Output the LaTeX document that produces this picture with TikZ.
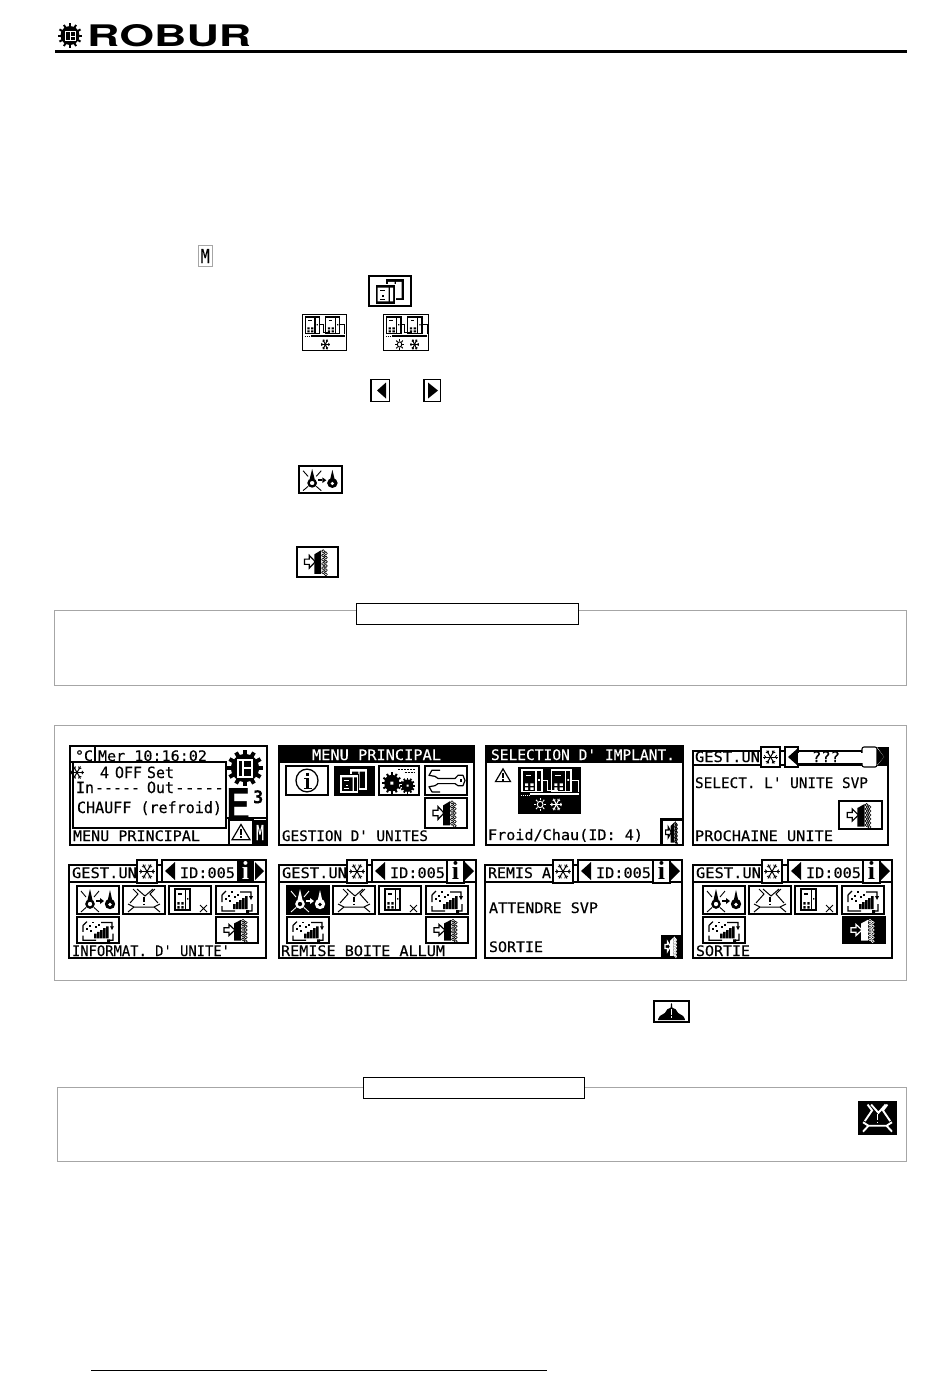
\documentclass[tikz,border=0pt]{standalone}
\usepackage{fontspec}
\usepackage{graphicx}
\usetikzlibrary{calc}
\newfontfamily\lcdfont{DejaVu Sans Mono}[FakeBold=0.35]
\newfontfamily\logofont{TeX Gyre Heros}[BoldFont={TeX Gyre Heros Bold}]
\newfontfamily\ifont{Liberation Serif}
\colorlet{icofg}{black}
\colorlet{icobg}{white}
\definecolor{framegray}{HTML}{A6A6A6}
\newbox\lcdbox
\def\lcdsz{14.5}
\newcommand\fitw[2]{\setbox\lcdbox\hbox{\lcdfont\fontsize{\lcdsz}{14}\selectfont #2}\pgfmathsetmacro\fitx{#1/\the\wd\lcdbox}\scalebox{\fitx}[1]{\box\lcdbox}}
\newcommand\lcd[6][black]{\node[lcdtext,text=#1] (#2) at (#3,#4) {\fitw{#5}{#6}};}
\def\bw{1.5}
\def\alw{1}
\tikzset{
  lcdtext/.style={anchor=base west,inner sep=0pt,outer sep=0pt},
  inv/.code={\colorlet{icofg}{white}\colorlet{icobg}{black}},
  bw/.store in=\bw,
  lcdline/.style={draw=black,line width=1.1pt,fill=white},
  pagebox/.style={draw=framegray,line width=1.1pt},
  titlebox/.style={draw=black,line width=1pt,fill=white},
}
\newcommand\ico[6][]{\begin{scope}[shift={(#2,#3)},xscale=#4/42,yscale=#5/28,#1]
  \draw[black,line width=\bw pt,fill=icobg] (0,0) rectangle (42,28); #6 \end{scope}}
\newcommand\gExit{%
  \fill[icofg] (18,7)--(25,3)--(25,25.5)--(18,25.5)--cycle;
  \foreach \yy in {4,8,...,24}{\draw[icofg,line width=.6pt] (27,\yy) circle[radius=1.5] (29.7,\yy+2) circle[radius=1.5];}
  \draw[icofg,line width=1.2pt,fill=icobg,line join=miter] (8,11.5)--(13,11.5)--(13,8)--(19,14)--(13,20)--(13,16.5)--(8,16.5)--cycle;}
\newcommand\gFlame{%
  \draw[icofg,line width=2.3pt] (13,18) circle[radius=3.6];
  \fill[icofg] (10.5,14)--(13,3)--(15.5,14)--cycle;
  \draw[icofg,line width=.9pt] (4,5)--(9,11) (22,5)--(17,11) (4,26)--(9,21.5) (22,26)--(17,21.5);
  \draw[icofg,line width=1.5pt] (19,15)--(23,15);
  \fill[icofg] (23,12)--(27,15)--(23,18)--cycle;
  \fill[icofg] (33,18) circle[radius=5.2];
  \fill[icofg] (30.8,14)--(33,4)--(35.2,14)--cycle;
  \fill[icobg] (33,18.5) circle[radius=1.8];}
\newcommand\gAlarm{%
  \draw[icofg,line width=\alw pt] (7,17)--(15,8)--(10,3) (35,17)--(27,8)--(32,3) (14,3)--(22,10)--(30,3);
  \draw[icofg,line width=\alw pt] (5,18)--(11,21)--(31,21)--(37,18) (5,26)--(11,21) (37,26)--(31,21);
  \draw[icofg,line width=1.2pt] (21,11)--(21,16) (21,17.5)--(21,19);}
\newcommand\gBell{%
  \fill[icofg] (5,24)--(7,20)--(13,16)--(16,11)--(20,9)--(20.5,3)--(21.5,3)--(22,9)--(26,11)--(29,16)--(35,20)--(37,24)--(37,25.5)--(5,25.5)--cycle;
  \draw[icobg,line width=1.2pt] (21,11)--(21,18) (21,20)--(21,22);}
\newcommand\machine[2]{%
  \draw[icofg,line width=1.3pt,fill=icobg] (#1,#2) rectangle (#1+15,#2+21);
  \draw[icofg,line width=1.3pt] (#1+10.5,#2)--(#1+10.5,#2+21);
  \draw[icofg,line width=1.2pt] (#1+3,#2+5)--(#1+7,#2+5);
  \fill[icofg] (#1+2.3,#2+13) rectangle (#1+4.7,#2+15.5) (#1+6.3,#2+13) rectangle (#1+8.7,#2+15.5) (#1+2.3,#2+17) rectangle (#1+4.7,#2+19.5) (#1+6.3,#2+17) rectangle (#1+8.7,#2+19.5) (#1+12.2,#2+9) rectangle (#1+13.4,#2+10.5);}
\newcommand\gUnitX{%
  \machine{6}{3}
  \draw[icofg,line width=.8pt] (31,19)--(38,26) (38,19)--(31,26);}
\newcommand\gStage{%
  \draw[icofg,line width=1.2pt] (6,16)--(6,9) (6,9)--(10,5) (24,6)--(35,6)--(35,12) (6,20)--(6,25)--(19,25) (36,18)--(36,25)--(32,25);
  \fill[icofg] (33,10) -- (37,10) -- (35,14) -- cycle (30,24) rectangle (33,27);
  \fill[icofg] (17,18) rectangle (19.5,23) (20,16) rectangle (22.5,23) (23,14) rectangle (25.5,23) (26,12) rectangle (28.5,23) (29,10) rectangle (31.5,23);
  \foreach \dx/\dy in {9/12,12/9,15/5,18/10,21/8,13/14}{\fill[icofg] (\dx,\dy) rectangle (\dx+1.8,\dy+1.8);}}
\newcommand\gInfo{%
  \draw[icofg,line width=1.3pt] (21,14) ellipse[x radius=11,y radius=11];
  \draw[icofg,line width=2.6pt] (21.5,12)--(21.5,21) (21.5,6.5)--(21.5,9.2);
  \draw[icofg,line width=1.1pt] (18,12)--(22,12) (17.5,21.5)--(25.5,21.5);}
\newcommand\gUnits{%
  \fill[icofg] (17,2.5) rectangle (35,23);
  \fill[icobg] (19,5.5) rectangle (25.5,21) (27,5.5) rectangle (32.5,21);
  \draw[icobg,line width=.8pt,fill=icofg] (6,8) rectangle (26,26.5);
  \fill[icobg] (8.5,11) rectangle (19.5,24) (21,11) rectangle (24,24);
  \draw[icofg,line width=1pt] (11,14)--(16,14) (11,22)--(16,22);
  \fill[icofg] (13,18) rectangle (14.5,19.5);}
\newcommand\snowAt[3]{%
  \foreach \a in {0,60,120,180,240,300}{%
    \draw[icofg,line width=1pt] (#1,#2)--++({\a}:#3);
    \draw[icofg,line width=.8pt] ($(#1,#2)+({\a}:#3*.62)$)--++({\a+45}:#3*.33) ($(#1,#2)+({\a}:#3*.62)$)--++({\a-45}:#3*.33);}}
\newcommand\sunAt[3]{%
  \draw[icofg,line width=1pt] (#1,#2) circle[radius=#3*.48];
  \foreach \a in {0,45,...,315}{\draw[icofg,line width=1pt] ($(#1,#2)+({\a}:#3*.62)$)--($(#1,#2)+({\a}:#3)$);}}
\newcommand\gPlant{%
  \begin{scope}[yscale=.62,xscale=.9,shift={(1,1)}]\machine{2}{2}\machine{24}{2}\end{scope}
  \draw[icofg,line width=1pt] (16,8)--(20,8)--(20,14)--(27,14) (36,8)--(41,8)--(41,15);
  \draw[icofg,line width=1.7pt] (8,16.5)--(41,16.5);
  \draw[icofg,line width=.8pt,dash pattern=on 1pt off 1pt] (2,17)--(8,17);}
\newcommand\gKey{%
  \draw[icofg,line width=1.2pt,line join=round] (15,4)--(7,4)--(4,9)--(10,10)--(13,12)--(30,12)--(33,9)--(38,9)--(40,14)--(38,19)--(33,19)--(30,17)--(13,17)--(10,19)--(4,20)--(7,25)--(15,25);
  \fill[icofg] (35,13) rectangle (37,15.5);}
\newcommand\gearAt[4]{%
  \fill[black] (#1,#2) circle[radius=#3];
  \foreach \a in {0,30,...,330}{\draw[black,line width=#4*1pt] ($(#1,#2)+({\a}:#3*.8)$)--($(#1,#2)+({\a}:#3*1.28)$);}}
\newcommand\warnAt[3]{%
  \draw[black,line width=1.2pt,line join=miter] (#1,#2-#3*.95)--(#1+#3,#2+#3*.75)--(#1-#3,#2+#3*.75)--cycle;
  \draw[black,line width=1.5pt] (#1,#2-#3*.4)--(#1,#2+#3*.2) (#1,#2+#3*.35)--(#1,#2+#3*.6);}
% screen of the lower row: prefix, x0, title, title width, extra width, i inverted
\newcommand\gestscreen[6]{%
  \begin{scope}[shift={(#2,0)}]
    \draw[lcdline] (0,865) rectangle (197+#5,958);
    \draw[black,line width=1.1pt] (0,882)--(197+#5,882);
    \lcd{#1title}{3}{878}{#4}{#3}
    \draw[lcdline] (68+#5*.5,860) rectangle (88+#5*.5,883);
    \snowAt{78+#5*.5}{871.5}{8}
    \draw[lcdline] (93+#5,860) rectangle (197+#5,882);
    \fill[black] (96+#5,871)--(106+#5,862)--(106+#5,880)--cycle;
    \lcd{#1id}{111+#5}{878}{55}{ID:005}
    \ifnum#6=1
      \fill[black] (168+#5,860) rectangle (185+#5,883);
      \node[inner sep=0pt,text=white,anchor=base] (#1info) at (176.5+#5,879) {\ifont\bfseries\fontsize{26}{26}\selectfont i};
    \else
      \draw[lcdline] (168+#5,860) rectangle (185+#5,883);
      \node[inner sep=0pt,text=black,anchor=base] (#1info) at (176.5+#5,879) {\ifont\bfseries\fontsize{26}{26}\selectfont i};
    \fi
    \fill[black] (186+#5,862)--(195+#5,871)--(186+#5,880)--cycle;
  \end{scope}}
\newcommand\iconrow[5]{% x0 for icons, flame option, exit option, exit x, exit y
  \ico[#2,bw=2]{#1}{886}{42}{28}{\gFlame}
  \ico[bw=1.4]{#1+46}{886}{42}{28}{\gAlarm}
  \ico[bw=2]{#1+92}{886}{42}{28}{\gUnitX}
  \ico[bw=2]{#1+139}{886}{42}{28}{\gStage}
  \ico[bw=2]{#1}{917}{42}{26}{\gStage}
  \ico[#3,bw=2]{#4}{#5}{42}{26}{\gExit}}
\begin{document}
\begin{tikzpicture}[x=1pt,y=-1pt,line cap=butt]
\useasboundingbox (0,0) rectangle (950,1379);
\fill[white] (0,0) rectangle (950,1379);

% header
\gearAt{70}{35.5}{9.5}{2}
\draw[white,line width=1pt] (65.5,31) rectangle (75,40.5) (70,31)--(70,40.5) (70,36)--(75,36);
\node[inner sep=0pt,anchor=base west] (logo) at (87,46) {\resizebox{164pt}{22pt}{\logofont\bfseries ROBUR}};
\draw[black,line width=3pt] (55,51.5)--(907,51.5);

% inline icons
\draw[framegray,line width=1pt] (198.5,245.5) rectangle (212,266.5);
\node[inner sep=0pt] (mkey) at (205.2,256) {\resizebox{9pt}{14pt}{\lcdfont M}};
\ico[bw=2]{369}{276}{42}{29.5}{\gUnits}
\ico[bw=1]{302.5}{314.5}{43.5}{36}{\gPlant\snowAt{22}{23.3}{4.3}}
\ico[bw=1]{383.5}{314.5}{45}{36}{\gPlant\sunAt{15}{23.3}{4.3}\snowAt{29}{23.3}{4.3}}
% left and right arrow keys
\draw[black,line width=1pt] (371,379.5) rectangle (389,401.5);
\draw[black,line width=2pt] (371,379)--(371,402);
\fill[black] (377,390.5)--(386,382.5)--(386,398.5)--cycle;
\draw[black,line width=1pt] (424,379.5) rectangle (440,401.5);
\draw[black,line width=2pt] (424,379)--(424,402);
\fill[black] (438,390.5)--(428,382.5)--(428,398.5)--cycle;
\ico[bw=2]{299}{466}{42.5}{26.5}{\gFlame}
\ico[bw=2]{296.5}{547}{41.5}{29.5}{\gExit}

% first note box
\draw[pagebox] (54.5,610.5) rectangle (906.5,685.5);
\draw[titlebox] (356.5,603.5) rectangle (578.5,624);

% screens panel
\draw[pagebox] (54.5,725.5) rectangle (906.5,980.5);

% screen 1
\draw[lcdline] (70,746) rectangle (267,845);
\draw[black,line width=1.1pt] (95,746)--(95,762);
\draw[black,line width=1.1pt] (73,762) rectangle (226,828);
\draw[black,line width=1.1pt] (70,762)--(73,762);
\draw[black,line width=2pt] (226,818)--(267,818);
\lcd{cdeg}{75}{761}{18}{°C}
\lcd{clock}{98}{761}{109}{Mer 10:16:02}
\snowAt{77}{772.5}{7}
\def\lcdsz{15.5}
\lcd{fourn}{100}{778}{9}{4}
\lcd{offs}{115}{778}{27}{OFF}
\lcd{sets}{147}{778}{27}{Set}
\lcd{inl}{76}{793}{18}{In}
\lcd{ind}{95}{793}{45}{-----}
\lcd{outl}{147}{793}{27}{Out}
\lcd{outd}{175}{793}{49}{-----}
\lcd{chauff}{77}{813}{145}{CHAUFF (refroid)}
\def\lcdsz{14.5}
\lcd{menu}{73}{841}{127}{MENU PRINCIPAL}
\gearAt{245}{768}{14}{4}
\draw[white,line width=2pt] (238,760) rectangle (252,777) (243,760)--(243,777) (243,768)--(252,768);
\node[inner sep=0pt,anchor=north west] (ebig) at (226,788) {\resizebox{24pt}{33pt}{\logofont\bfseries E}};
\node[inner sep=0pt,anchor=north west] (ethree) at (253,790) {\resizebox{10pt}{13pt}{\lcdfont\bfseries 3}};
\draw[black,line width=1.6pt,fill=white] (229,820) rectangle (253,845);
\warnAt{241}{833}{9}
\fill[black] (253,820) rectangle (267,845);
\node[inner sep=0pt,text=white] (mwhite) at (260,832.5) {\resizebox{8pt}{15pt}{\lcdfont M}};

% screen 2
\draw[lcdline] (279,746) rectangle (474,845);
\fill[black] (279,746) rectangle (474,763);
\lcd[white]{mp}{312}{760}{129}{MENU PRINCIPAL}
\ico[bw=1.6]{286}{766}{42}{29}{\gInfo}
\ico[inv,bw=1]{334}{766}{40}{29}{\gUnits}
\ico[bw=1.6]{379}{766}{40}{29}{\gearAt{13.5}{16.5}{8}{2}\gearAt{30}{19}{6}{1.8}\fill[white] (12,15) rectangle (15,18) (29,18) rectangle (31,20);\draw[black,line width=1pt,dash pattern=on 2pt off 1pt] (20,3)--(38,3) (27,6.5)--(38,6.5);}
\ico[bw=2]{425}{766}{42}{29}{\gKey}
\ico[bw=2]{425}{798}{42}{30}{\gExit}
\lcd{gu}{282}{841}{146}{GESTION D' UNITES}

% screen 3
\draw[lcdline] (486,746) rectangle (683,845);
\fill[black] (486,746) rectangle (683,763);
\lcd[white]{si}{491}{760}{184}{SELECTION D' IMPLANT.}
\warnAt{503}{776}{7.5}
\ico[inv,bw=.5]{518}{767}{62}{46}{\gPlant\sunAt{15}{22.8}{4}\snowAt{26}{22.8}{4}}
\ico[bw=2.6]{661.5}{819.5}{21.5}{25.5}{\gExit}
\lcd{fc}{488}{840}{155}{Froid/Chau(ID: 4)}

% screen 4
\draw[lcdline] (693,751) rectangle (888,845);
\draw[black,line width=1.1pt] (693,765)--(888,765);
\lcd{gest4}{695}{762}{65}{GEST.UN}
\draw[lcdline] (761,747) rectangle (780,767);
\snowAt{770.5}{757}{7.5}
\draw[lcdline] (785,747) rectangle (798,767);
\fill[black] (788,757)--(797,749)--(797,765)--cycle;
\draw[lcdline] (798,751.5) rectangle (862,763.5);
\fill[white] (797.6,752.5) rectangle (863,762.5);
\draw[lcdline,rounded corners=2pt] (862,747) rectangle (877,767);
\fill[white] (860,752.5) rectangle (864,762.5);
\fill[black] (877,746.5) rectangle (888.5,766);
\fill[white] (877,747)--(884,757)--(877,765.5)--cycle;
\fill[black] (877,748)--(884,757)--(877,765)--cycle;
\lcd{qqq}{812}{762}{28}{???}
\lcd{sel}{695}{788}{173}{SELECT. L' UNITE SVP}
\ico[bw=2]{839}{801}{43}{28}{\gExit}
\lcd{pu}{695}{841}{138}{PROCHAINE UNITE}

% lower screens
\gestscreen{a}{69}{GEST.UN}{65}{0}{1}
\iconrow{77}{}{}{216}{917}
\lcd{ainf}{72}{956}{158}{INFORMAT. D' UNITE'}

\gestscreen{b}{279}{GEST.UN}{65}{0}{0}
\iconrow{287}{inv}{}{426}{917}
\lcd{brem}{281}{956}{164}{REMISE BOITE ALLUM}

\gestscreen{c}{485}{REMIS A}{63}{0}{0}
\lcd{catt}{489}{913}{109}{ATTENDRE SVP}
\lcd{csor}{489}{952}{54}{SORTIE}
\ico[inv,bw=.5]{661}{935}{21}{23}{\gExit}

\gestscreen{d}{693}{GEST.UN}{65}{2}{0}
\iconrow{703}{}{inv}{843}{917}
\lcd{dsor}{696}{956}{54}{SORTIE}

% bell key
\ico[bw=2]{654}{1001}{35}{21}{\gBell}

% second note box
\draw[pagebox] (57.5,1087.5) rectangle (906.5,1161.5);
\draw[titlebox] (363.5,1077.5) rectangle (584,1098);
\def\alw{1.9}
\ico[inv,bw=.5]{858.5}{1101}{38}{33}{\gAlarm}

% footer line
\draw[black,line width=1pt] (91,1370.5)--(547,1370.5);
\end{tikzpicture}
\end{document}
